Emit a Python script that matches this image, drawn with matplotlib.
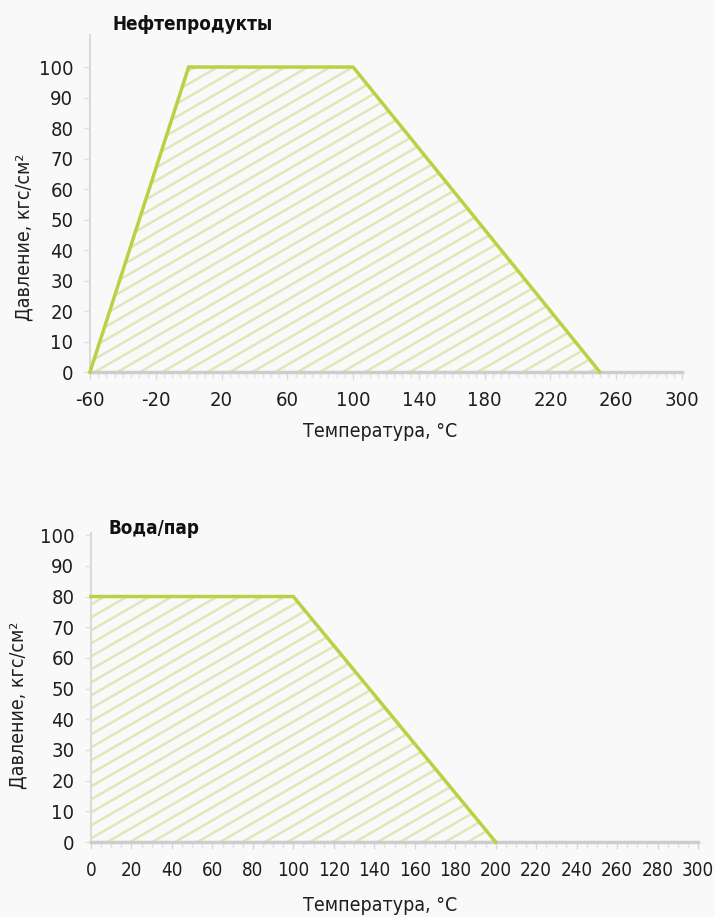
import numpy as np
import matplotlib
matplotlib.use("Agg")
import matplotlib.pyplot as plt
from matplotlib.patches import Polygon
from matplotlib.ticker import MultipleLocator

# Данные: рабочая область (температура, давление)
OIL_TEMP = [-60, 0, 100, 250]
OIL_PRESSURE = [0, 100, 100, 0]
WATER_TEMP = [0, 0, 100, 200]
WATER_PRESSURE = [0, 80, 80, 0]

OIL_XTICKS = [-60, -20, 20, 60, 100, 140, 180, 220, 260, 300]
WATER_XTICKS = list(range(0, 301, 20))
YTICKS = list(range(0, 101, 10))

OIL_TITLE = "Нефтепродукты"
WATER_TITLE = "Вода/пар"
X_LABEL = "Температура, °C"
Y_LABEL = "Давление, кгс/см²"

# Стили
BG = "#f9f9f9"
EDGE_COLOR = "#b9d245"
HATCH_COLOR = "#e0e7b8"
AXIS_COLOR = "#cdcdcd"
TEXT_COLOR = "#1e1e1e"
DPI = 100
TICK_SIZE = 14.5
LABEL_SIZE = 14
TITLE_SIZE = 13.5

plt.rcParams["font.family"] = ["DejaVu Sans"]
plt.rcParams["font.stretch"] = "condensed"
plt.rcParams["font.size"] = TICK_SIZE
plt.rcParams["axes.unicode_minus"] = False


def hatch_polygon(ax, xs, ys, angle=30, step_px=13.0):
    """Заливка многоугольника наклонной штриховкой"""
    pts = np.column_stack([xs, ys])
    patch = Polygon(pts, closed=True, facecolor="none", edgecolor="none")
    ax.add_patch(patch)
    bbox = ax.get_window_extent()
    w, h = bbox.width, bbox.height
    k = np.tan(np.radians(angle)) * w / h  # наклон в координатах осей
    dy = step_px / h
    for y0 in np.arange(-k - 1, 1 + dy, dy):
        line, = ax.plot([0, 1], [y0, y0 + k], transform=ax.transAxes,
                        color=HATCH_COLOR, lw=1.8, zorder=1,
                        solid_capstyle="butt")
        line.set_clip_path(patch)


def style_axes(ax, xlim, ylim, xticks, xtick_size):
    ax.set_facecolor(BG)
    ax.set_xlim(*xlim)
    ax.set_ylim(*ylim)
    ax.set_xticks(xticks)
    ax.set_yticks(YTICKS)
    ax.xaxis.set_minor_locator(MultipleLocator(5))
    for side in ("top", "right"):
        ax.spines[side].set_visible(False)
    ax.spines["bottom"].set_color(AXIS_COLOR)
    ax.spines["bottom"].set_linewidth(2.5)
    ax.spines["left"].set_color("#dadada")
    ax.spines["left"].set_linewidth(1.5)
    ax.tick_params(axis="x", which="major", length=5, width=1,
                   color="#d8d8d8", pad=9, labelcolor=TEXT_COLOR,
                   labelsize=xtick_size)
    ax.tick_params(axis="x", which="minor", length=4, width=1,
                   color="#e2e2e2")
    ax.tick_params(axis="y", length=4, width=1, color="#e0e0e0",
                   pad=8, labelcolor=TEXT_COLOR, labelsize=TICK_SIZE)


def set_labels(ax, x_pos, y_pos):
    ax.set_xlabel(X_LABEL, color=TEXT_COLOR, fontsize=LABEL_SIZE)
    ax.xaxis.label.set_va("center")
    ax.xaxis.set_label_coords(*x_pos)
    ax.set_ylabel(Y_LABEL, color=TEXT_COLOR, fontsize=LABEL_SIZE)
    ax.yaxis.set_label_coords(*y_pos)


fig = plt.figure(figsize=(715 / DPI, 917 / DPI), dpi=DPI, facecolor=BG)

# Верхний график: нефтепродукты
ax1 = fig.add_axes([90 / 715, 1 - 372 / 917, 592 / 715, 337 / 917])
style_axes(ax1, (-60, 300), (0, 110.5), OIL_XTICKS, TICK_SIZE)
hatch_polygon(ax1, OIL_TEMP, OIL_PRESSURE)
ax1.plot(OIL_TEMP, OIL_PRESSURE, color=EDGE_COLOR, lw=2.5, zorder=3,
         solid_joinstyle="miter", clip_on=False)
set_labels(ax1, (0.49, -0.178), (-0.095, 0.40))
fig.text(113 / 715, 1 - 25 / 917, OIL_TITLE, ha="left", va="center",
         fontsize=TITLE_SIZE, fontweight="bold", color="#111111")

# Нижний график: вода/пар
ax2 = fig.add_axes([91 / 715, 1 - 842 / 917, 607 / 715, 309 / 917])
style_axes(ax2, (0, 300), (0, 100.7), WATER_XTICKS, 13.5)
hatch_polygon(ax2, WATER_TEMP, WATER_PRESSURE)
ax2.plot(WATER_TEMP[1:], WATER_PRESSURE[1:], color=EDGE_COLOR, lw=2.5,
         zorder=3, solid_joinstyle="miter", clip_on=False)
set_labels(ax2, (0.476, -0.204), (-0.105, 0.443))
fig.text(108 / 715, 1 - 528 / 917, WATER_TITLE, ha="left", va="center",
         fontsize=TITLE_SIZE, fontweight="bold", color="#111111")

fig.savefig("out.png", dpi=DPI, facecolor=BG)
